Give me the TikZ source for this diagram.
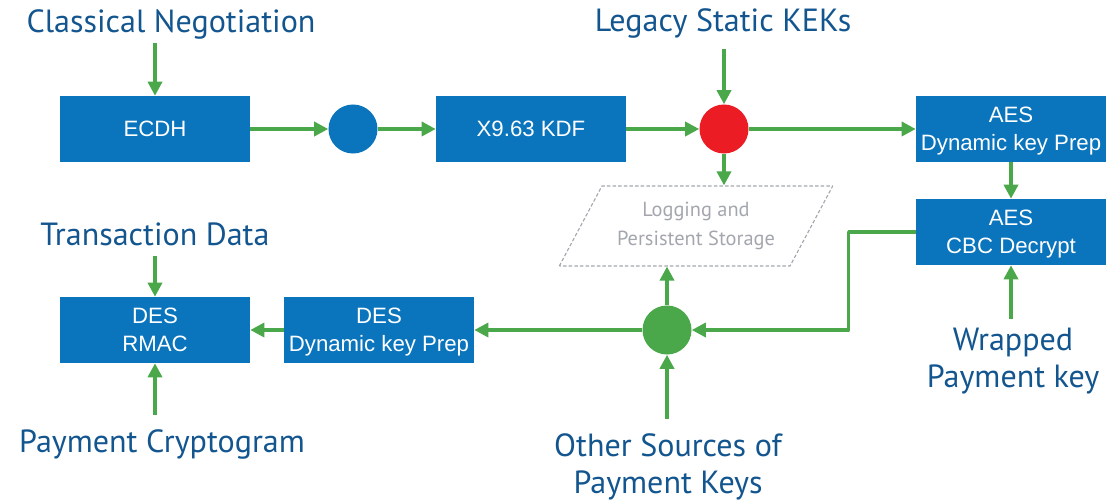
\documentclass[tikz,border=0pt]{standalone}
\usepackage{fontspec}
\setmainfont{Liberation Sans}
\newfontfamily\labelfont{PT Sans}
\usetikzlibrary{arrows.meta,shapes.geometric}

\definecolor{boxblue}{HTML}{0A74BC}
\definecolor{textblue}{HTML}{13568F}
\definecolor{flowgreen}{HTML}{4AA84A}
\definecolor{kekred}{HTML}{EC1C24}
\definecolor{storegrey}{HTML}{A3A7AD}

\tikzset{
  stage/.style={fill=boxblue, text=white, minimum width=4.75cm, minimum height=1.65cm,
    align=center, inner sep=0pt, text depth=0pt, font=\fontsize{15.8}{20}\selectfont},
  joint/.style={circle, minimum size=1.225cm, inner sep=0pt},
  source/.style={text=textblue, align=center, inner sep=0pt,
    font=\labelfont\fontsize{22.8}{26.3}\selectfont},
  flow/.style={draw=flowgreen, line width=2.4pt, -{Triangle[length=10pt,width=10pt]}},
  storage/.style={trapezium, trapezium left angle=56, trapezium right angle=124,
    trapezium stretches=true, minimum width=6.85cm, minimum height=2cm,
    draw=storegrey, dash pattern=on 2.5pt off 1.5pt, line width=0.8pt,
    text=storegrey, align=center, font=\labelfont\fontsize{14.5}{20}\selectfont}
}

\begin{document}
\begin{tikzpicture}[x=0.025cm, y=-0.025cm, line join=round]
  \useasboundingbox (0,0) rectangle (1111,500);

  % processing stages
  \node[stage] (ecdh)    at (155,129)  {ECDH};
  \node[stage] (kdf)     at (531,129)  {X9.63 KDF};
  \node[stage] (aesprep) at (1011,129) {AES\\Dynamic key Prep};
  \node[stage] (aesdec)  at (1011,232) {AES\\CBC Decrypt};
  \node[stage] (desprep) at (379,330)  {DES\\Dynamic key Prep};
  \node[stage] (rmac)    at (155,330)  {DES\\RMAC};

  % junctions
  \node[joint, fill=boxblue]   (shared) at (353,129) {};
  \node[joint, fill=kekred]    (kek)    at (724,129) {};
  \node[joint, fill=flowgreen] (pkjoin) at (667,330) {};

  \node[storage] (store) at (696,226) {Logging and\\Persistent Storage};

  % inputs
  \node[source, anchor=base] (neg)      at (171,32)  {Classical Negotiation};
  \node[source, anchor=base] (legacy)   at (723,31)  {Legacy Static KEKs};
  \node[source, anchor=base] (txdata)   at (155,245) {Transaction Data};
  \node[source, anchor=base] (paycrypt) at (162,452) {Payment Cryptogram};
  \node[source, anchor=base] (wrapped)  at (1013,387) {Wrapped\\Payment key};
  \node[source, anchor=base] (others)   at (668,493) {Other Sources of\\Payment Keys};

  % upper chain
  \draw[flow, shorten <=3pt] (neg.south -| ecdh) -- (ecdh.north);
  \draw[flow] (ecdh) -- (shared);
  \draw[flow] (shared) -- (kdf);
  \draw[flow] (kdf) -- (kek);
  \draw[flow, shorten <=8pt] (legacy.south -| kek) -- (kek.north);
  \draw[flow] (kek) -- (aesprep);
  \draw[flow] (kek.south) -- (store.north -| kek);
  \draw[flow] (aesprep) -- (aesdec);
  \draw[flow, shorten <=6pt] (wrapped.north -| aesdec) -- (aesdec.south);

  % back to the lower chain
  \draw[flow] (aesdec.west) -- ++(-67,0) |- (pkjoin.east);
  \draw[flow] (pkjoin.north) -- (store.south -| pkjoin);
  \draw[flow, shorten <=10pt] (others.north -| pkjoin) -- (pkjoin.south);
  \draw[flow] (pkjoin) -- (desprep);
  \draw[flow] (desprep) -- (rmac);
  \draw[flow, shorten <=7pt] (txdata.south -| rmac) -- (rmac.north);
  \draw[flow, shorten <=10pt] (paycrypt.north -| rmac) -- (rmac.south);
\end{tikzpicture}
\end{document}
